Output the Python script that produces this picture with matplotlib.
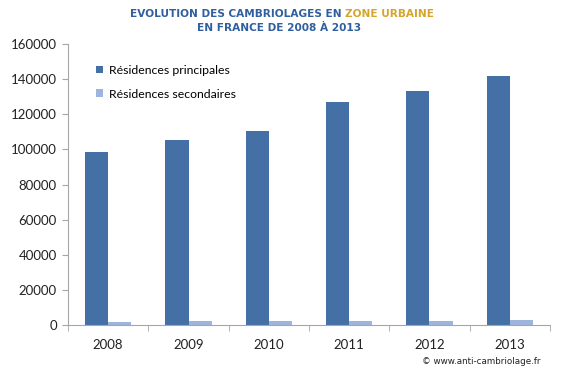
import matplotlib
matplotlib.use("Agg")
import matplotlib.pyplot as plt
import numpy as np

years = ["2008", "2009", "2010", "2011", "2012", "2013"]
principales = [98500, 105300, 110500, 126800, 133000, 142000]
secondaires = [1700, 2200, 2200, 2200, 2200, 2800]
series_names = ["Résidences principales", "Résidences secondaires"]
yticks = [0, 20000, 40000, 60000, 80000, 100000, 120000, 140000, 160000]

c1 = "#4470a6"
c2 = "#9db4dc"
gray = "#a6a6a6"

fig = plt.figure(figsize=(5.64, 3.78), dpi=100)
ax = fig.add_axes([68/564, 1-325/378, (550-68)/564, (325-44)/378])

x = np.arange(len(years))
w = 0.29
ax.bar(x - w/2, principales, w, color=c1, label=series_names[0])
ax.bar(x + w/2, secondaires, w, color=c2, label=series_names[1])

ax.set_xlim(-0.5, len(years) - 0.5)
ax.set_ylim(0, 160000)
ax.set_yticks(yticks)
ax.set_yticklabels([str(v) for v in yticks])
ax.set_xticks(x)
ax.set_xticklabels(years)
ax.set_xticks(np.arange(-0.5, len(years)), minor=True)
ax.tick_params(axis="x", which="major", length=0, pad=10)
ax.tick_params(axis="x", which="minor", length=4, color=gray, direction="out")
ax.tick_params(axis="y", length=4, color=gray, direction="out", pad=4)
for lab in ax.get_xticklabels() + ax.get_yticklabels():
    lab.set_fontfamily("Lato")
    lab.set_fontsize(9.5)
    lab.set_color("#222222")

for s in ["top", "right"]:
    ax.spines[s].set_visible(False)
ax.spines["left"].set_color(gray)
ax.spines["bottom"].set_color(gray)

leg = ax.legend(loc="upper left", bbox_to_anchor=(0.035, 0.965), frameon=False,
                prop={"family": "Lato", "size": 8.8}, handlelength=0.6,
                handleheight=0.6, handletextpad=0.5, labelspacing=1.05)

tfont = dict(fontfamily="DejaVu Sans", fontweight="bold", fontsize=7.6)
fig.text(342/564, 1-14/378, "EVOLUTION DES CAMBRIOLAGES EN", color="#2f5f9e",
         ha="right", va="center", **tfont)
fig.text(345/564, 1-14/378, "ZONE URBAINE", color="#d4a52a",
         ha="left", va="center", **tfont)
fig.text(279/564, 1-28/378, "EN FRANCE DE 2008 À 2013", color="#2f5f9e",
         ha="center", va="center", **tfont)

fig.text(540/564, 1-362/378, "© www.anti-cambriolage.fr", ha="right", va="center",
         fontsize=6.3, fontfamily="DejaVu Sans", color="#222222")

fig.savefig("out.png", dpi=100)
